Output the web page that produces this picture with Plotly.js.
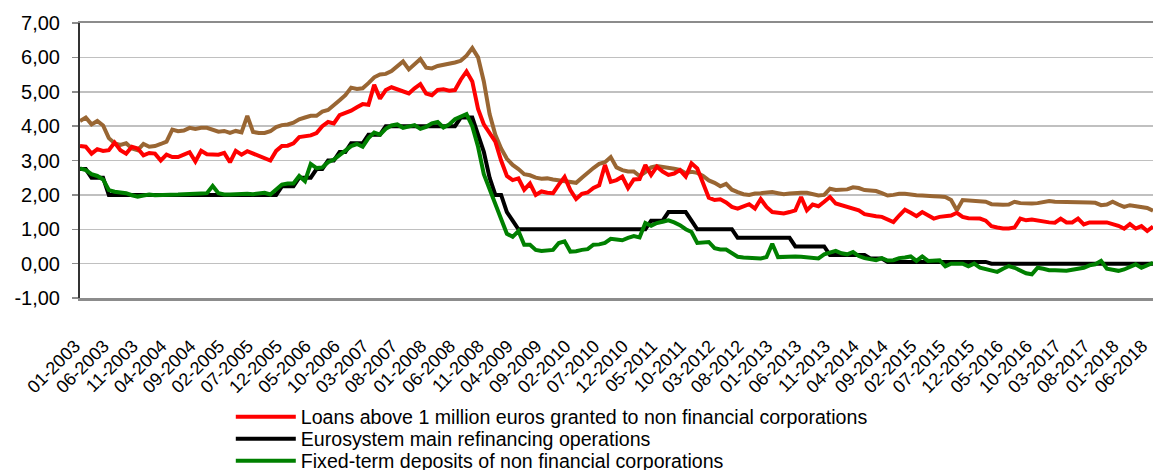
<!DOCTYPE html>
<html>
<head>
<meta charset="utf-8">
<script src="https://cdn.plot.ly/plotly-3.0.1.min.js"></script>
<style>html,body{margin:0;padding:0;background:#fff;}#chart{width:1154px;height:470px;}</style>
</head>
<body>
<div id="chart"></div>
<script>
// Monthly categories: 01-2003 ... 07-2018
const startYear = 2003, monthCount = 187;
const months = [];
for (let k = 0; k < monthCount; k++) {
  const m = k % 12 + 1, y = startYear + Math.floor(k / 12);
  months.push((m < 10 ? '0' : '') + m + '-' + y);
}

const xTickLabels = ["01-2003","06-2003","11-2003","04-2004","09-2004","02-2005","07-2005","12-2005",
  "05-2006","10-2006","03-2007","08-2007","01-2008","06-2008","11-2008","04-2009","09-2009","02-2010",
  "07-2010","12-2010","05-2011","10-2011","03-2012","08-2012","01-2013","06-2013","11-2013","04-2014",
  "09-2014","02-2015","07-2015","12-2015","05-2016","10-2016","03-2017","08-2017","01-2018","06-2018"];

const yTickVals = [-1, 0, 1, 2, 3, 4, 5, 6, 7];
const yTickLabels = ["-1,00","0,00","1,00","2,00","3,00","4,00","5,00","6,00","7,00"];

const loansAbove1m = [
 3.42,3.40,3.20,3.33,3.28,3.30,3.52,3.30,3.20,3.40,
 3.35,3.15,3.22,3.20,3.00,3.17,3.10,3.10,3.17,3.24,
 2.97,3.28,3.18,3.18,3.17,3.22,2.95,3.28,3.17,3.27,
 3.20,3.15,3.05,3.00,3.28,3.42,3.43,3.50,3.68,3.71,
 3.73,3.80,4.00,4.12,4.08,4.32,4.38,4.45,4.55,4.64,
 4.62,5.20,4.80,5.05,5.13,5.08,5.00,4.95,5.10,5.22,
 4.95,4.90,5.05,5.07,5.03,5.05,5.35,5.59,5.30,4.50,
 4.05,3.80,3.55,3.00,2.55,2.43,2.48,2.15,2.33,2.00,
 2.10,2.06,2.05,2.30,2.52,2.14,1.88,2.03,2.07,2.20,
 2.28,2.87,2.38,2.43,2.53,2.20,2.45,2.46,2.87,2.58,
 2.82,2.68,2.58,2.62,2.72,2.53,2.92,2.77,2.35,1.92,
 1.85,1.87,1.78,1.65,1.60,1.68,1.73,1.60,1.88,1.65,
 1.50,1.48,1.46,1.50,1.55,1.94,1.55,1.72,1.67,1.80,
 1.94,1.75,1.70,1.66,1.62,1.55,1.44,1.40,1.38,1.36,
 1.30,1.21,1.40,1.57,1.48,1.38,1.50,1.40,1.31,1.36,
 1.37,1.40,1.48,1.36,1.32,1.31,1.31,1.25,1.09,1.05,
 1.02,1.02,1.05,1.31,1.26,1.28,1.25,1.21,1.20,1.19,
 1.31,1.20,1.20,1.31,1.14,1.20,1.21,1.20,1.20,1.15,
 1.10,1.02,1.15,1.02,1.09,0.95,1.08];

const loansUpTo1m = [
 4.15,4.25,4.05,4.15,4.02,3.65,3.50,3.45,3.50,3.35,
 3.30,3.48,3.40,3.42,3.48,3.55,3.90,3.85,3.87,3.95,
 3.92,3.95,3.95,3.88,3.84,3.86,3.80,3.86,3.82,4.30,
 3.83,3.80,3.80,3.85,3.97,4.03,4.05,4.10,4.20,4.25,
 4.30,4.30,4.42,4.47,4.60,4.75,4.90,5.12,5.08,5.10,
 5.25,5.42,5.50,5.52,5.60,5.75,5.88,5.65,5.80,5.95,
 5.70,5.68,5.75,5.78,5.80,5.85,5.90,6.05,6.27,6.00,
 5.30,4.35,3.75,3.35,3.05,2.87,2.75,2.60,2.57,2.50,
 2.47,2.48,2.45,2.43,2.40,2.37,2.35,2.50,2.65,2.78,
 2.90,2.95,3.10,2.80,2.72,2.68,2.68,2.55,2.66,2.80,
 2.84,2.82,2.78,2.76,2.73,2.63,2.67,2.64,2.55,2.42,
 2.35,2.25,2.32,2.15,2.08,2.02,2.00,2.04,2.05,2.07,
 2.08,2.05,2.02,2.04,2.06,2.06,2.06,2.03,1.98,2.00,
 2.18,2.14,2.14,2.16,2.22,2.20,2.14,2.12,2.11,2.05,
 1.98,2.00,2.03,2.03,2.00,1.99,1.98,1.96,1.96,1.95,
 1.94,1.85,1.55,1.85,1.84,1.83,1.82,1.80,1.73,1.71,
 1.71,1.72,1.80,1.76,1.75,1.75,1.76,1.80,1.82,1.80,
 1.80,1.80,1.80,1.80,1.78,1.78,1.77,1.70,1.72,1.80,
 1.72,1.65,1.70,1.68,1.65,1.62,1.54];

const mainRefi = [
 2.75,2.75,2.50,2.50,2.50,2.00,2.00,2.00,2.00,2.00,
 2.00,2.00,2.00,2.00,2.00,2.00,2.00,2.00,2.00,2.00,
 2.00,2.00,2.00,2.00,2.00,2.00,2.00,2.00,2.00,2.00,
 2.00,2.00,2.00,2.00,2.00,2.25,2.25,2.25,2.50,2.50,
 2.50,2.75,2.75,3.00,3.00,3.25,3.25,3.50,3.50,3.50,
 3.75,3.75,3.75,4.00,4.00,4.00,4.00,4.00,4.00,4.00,
 4.00,4.00,4.00,4.00,4.00,4.00,4.25,4.25,4.25,3.75,
 3.25,2.50,2.00,2.00,1.50,1.25,1.00,1.00,1.00,1.00,
 1.00,1.00,1.00,1.00,1.00,1.00,1.00,1.00,1.00,1.00,
 1.00,1.00,1.00,1.00,1.00,1.00,1.00,1.00,1.00,1.25,
 1.25,1.25,1.50,1.50,1.50,1.50,1.25,1.00,1.00,1.00,
 1.00,1.00,1.00,1.00,0.75,0.75,0.75,0.75,0.75,0.75,
 0.75,0.75,0.75,0.75,0.50,0.50,0.50,0.50,0.50,0.50,
 0.25,0.25,0.25,0.25,0.25,0.25,0.25,0.15,0.15,0.15,
 0.05,0.05,0.05,0.05,0.05,0.05,0.05,0.05,0.05,0.05,
 0.05,0.05,0.05,0.05,0.05,0.05,0.05,0.05,0.00,0.00,
 0.00,0.00,0.00,0.00,0.00,0.00,0.00,0.00,0.00,0.00,
 0.00,0.00,0.00,0.00,0.00,0.00,0.00,0.00,0.00,0.00,
 0.00,0.00,0.00,0.00,0.00,0.00,0.00];

const fixedTermDeposits = [
 2.77,2.72,2.60,2.55,2.45,2.14,2.09,2.08,2.05,1.99,
 1.95,1.98,2.01,1.99,1.99,1.99,2.00,2.01,2.02,2.02,
 2.03,2.04,2.05,2.26,2.05,2.01,2.01,2.02,2.04,2.03,
 2.02,2.03,2.06,2.01,2.15,2.30,2.33,2.33,2.55,2.40,
 2.90,2.78,2.80,2.95,3.03,3.15,3.28,3.42,3.48,3.40,
 3.65,3.81,3.75,3.92,4.02,4.05,3.95,4.00,4.03,3.92,
 3.98,4.08,4.12,3.96,4.05,4.20,4.28,4.35,4.00,3.40,
 2.60,2.14,1.75,1.30,0.87,0.78,0.95,0.55,0.55,0.40,
 0.37,0.38,0.40,0.60,0.65,0.35,0.36,0.40,0.42,0.55,
 0.56,0.60,0.72,0.70,0.68,0.75,0.80,0.76,1.18,1.10,
 1.18,1.22,1.26,1.20,1.12,1.00,0.92,0.60,0.62,0.63,
 0.45,0.41,0.41,0.30,0.20,0.18,0.17,0.16,0.15,0.19,
 0.58,0.19,0.20,0.22,0.21,0.20,0.19,0.17,0.15,0.27,
 0.33,0.37,0.30,0.27,0.34,0.22,0.16,0.12,0.10,0.16,
 0.09,0.10,0.16,0.18,0.21,0.08,0.21,0.08,0.10,0.10,
 -0.08,0.00,0.00,0.00,-0.08,0.00,-0.12,-0.17,-0.20,-0.24,
 -0.15,-0.07,-0.12,-0.19,-0.28,-0.31,-0.12,-0.15,-0.19,-0.19,
 -0.19,-0.21,-0.18,-0.15,-0.12,-0.05,-0.02,0.08,-0.15,-0.18,
 -0.21,-0.17,-0.10,-0.02,-0.12,-0.05,0.02];

const seriesNames = [
  "Loans up to 1 million euros granted to non financial corporations",
  "Loans above 1 million euros granted to non financial corporations",
  "Eurosystem main refinancing operations",
  "Fixed-term deposits of non financial corporations"
];
const seriesColors = ["#996633", "#ff0000", "#000000", "#008000"];

const yRange = [-1, 7];
const font = '"Liberation Sans", Arial, sans-serif';

function line(y, i, legendId) {
  const t = {
    type: 'scatter', mode: 'lines', x: months, y: y, name: seriesNames[i],
    showlegend: !!legendId, line: {color: seriesColors[i], width: 4, shape: 'linear'},
    hovertemplate: '%{x}: %{y:.2f}<extra>' + seriesNames[i] + '</extra>'
  };
  if (legendId) t.legend = legendId;
  return t;
}

const data = [
  line(loansUpTo1m, 0, null),
  line(loansAbove1m, 1, 'legend'),
  line(mainRefi, 2, 'legend2'),
  line(fixedTermDeposits, 3, 'legend3')
];

const xDomain = [30 / 1103, 1];
const zeroPos = (0 - yRange[0]) / (yRange[1] - yRange[0]);

function legendBox(rowY) {
  return {
    xref: 'container', yref: 'container', x: 0.2, y: rowY,
    xanchor: 'left', yanchor: 'middle',
    font: {family: font, size: 19.6, color: '#000'},
    bgcolor: 'rgba(0,0,0,0)', borderwidth: 0, itemwidth: 60
  };
}

const layout = {
  width: 1154, height: 470,
  margin: {l: 50, r: 1, t: 23, b: 172, pad: 0, autoexpand: false},
  paper_bgcolor: '#ffffff', plot_bgcolor: '#ffffff',
  font: {family: font, color: '#000000', size: 16},
  showlegend: true,
  legend: legendBox(1 - 417 / 470),
  legend2: legendBox(1 - 439 / 470),
  legend3: legendBox(1 - 461 / 470),
  xaxis: {
    type: 'category', domain: xDomain, range: [0, months.length - 1],
    showgrid: false, zeroline: false,
    tickmode: 'array', tickvals: xTickLabels, ticktext: xTickLabels,
    tickangle: -45, ticks: 'outside', ticklen: 28, tickcolor: 'rgba(0,0,0,0)',
    ticklabelshift: -5,
    tickfont: {family: font, size: 18, color: '#000'},
    showline: true, linecolor: '#8c8c8c', linewidth: 2.5, mirror: true,
    automargin: false
  },
  xaxis3: {
    type: 'linear', overlaying: 'x', anchor: 'free', position: zeroPos,
    domain: xDomain, range: [0, months.length - 1], side: 'bottom',
    showgrid: false, zeroline: false, showticklabels: false,
    tickmode: 'linear', tick0: 0, dtick: 1, ticks: 'outside', ticklen: 5,
    tickwidth: 1, tickcolor: '#404040',
    showline: true, linecolor: '#000000', linewidth: 1, layer: 'below traces',
    automargin: false
  },
  yaxis: {
    anchor: 'x', range: yRange, domain: [0, 1],
    tickmode: 'array', tickvals: yTickVals, ticktext: yTickLabels,
    showgrid: true, gridcolor: '#c0c0c0', gridwidth: 1.5, zeroline: false,
    showline: true, linecolor: '#333333', linewidth: 2,
    ticks: 'outside', ticklen: 6, tickwidth: 1.5, tickcolor: '#8c8c8c',
    ticklabelstandoff: 8,
    tickfont: {family: font, size: 20, color: '#000'},
    automargin: false
  }
};

Plotly.newPlot('chart', data, layout, {displayModeBar: false, staticPlot: true});
</script>
</body>
</html>
